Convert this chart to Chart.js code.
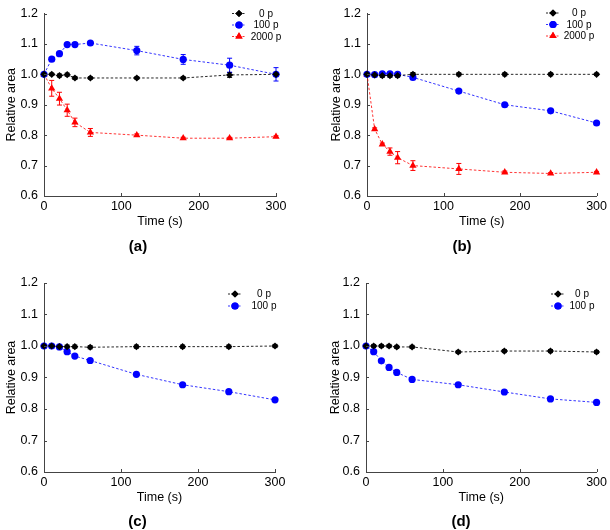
<!DOCTYPE html>
<html>
<head>
<meta charset="utf-8">
<script src="https://cdn.jsdelivr.net/npm/chart.js@4.4.0/dist/chart.umd.min.js"></script>
<style>
  html, body { margin: 0; padding: 0; background: #fff; }
  #wrap { position: relative; width: 610px; height: 530px; }
  .panel { position: absolute; width: 305px; height: 265px; }
</style>
</head>
<body>
<div id="wrap">
  <div class="panel" style="left:0;top:0"><canvas id="pa" width="305" height="265"></canvas></div>
  <div class="panel" style="left:305px;top:0"><canvas id="pb" width="305" height="265"></canvas></div>
  <div class="panel" style="left:0;top:265px"><canvas id="pc" width="305" height="265"></canvas></div>
  <div class="panel" style="left:305px;top:265px"><canvas id="pd" width="305" height="265"></canvas></div>
</div>
<script>
// time points (s)
const times = [0, 10, 20, 30, 40, 60, 120, 180, 240, 300];
const xTicks = [0, 100, 200, 300];
const yTicks = [0.6, 0.7, 0.8, 0.9, 1.0, 1.1, 1.2];

// panel (a)
const a0p       = [1.0, 1.0, 0.996, 0.999, 0.988, 0.988, 0.988, 0.988, 0.998, 1.0];
const a0pErr    = [0, 0.004, 0.005, 0.005, 0.005, 0.004, 0.004, 0.004, 0.008, 0.004];
const a100p     = [1.0, 1.05, 1.068, 1.098, 1.098, 1.103, 1.078, 1.049, 1.03, 1.0];
const a100pErr  = [0, 0.004, 0.004, 0.004, 0.004, 0.003, 0.014, 0.016, 0.023, 0.022];
const a2000p    = [1.0, 0.954, 0.92, 0.882, 0.842, 0.809, 0.80, 0.79, 0.79, 0.795];
const a2000pErr = [0, 0.026, 0.021, 0.02, 0.014, 0.013, 0.004, 0.003, 0.003, 0.003];

// panel (b)
const b0p       = [1.0, 0.998, 0.996, 0.996, 0.996, 1.0, 1.0, 1.0, 1.0, 1.0];
const b0pErr    = [0, 0.005, 0.006, 0.006, 0.006, 0.006, 0.005, 0.005, 0.005, 0.004];
const b100p     = [1.0, 0.999, 1.002, 1.002, 1.0, 0.99, 0.945, 0.90, 0.88, 0.84];
const b100pErr  = [0, 0.003, 0.003, 0.003, 0.003, 0.003, 0.003, 0.003, 0.003, 0.003];
const b2000p    = [1.0, 0.82, 0.77, 0.746, 0.726, 0.70, 0.689, 0.678, 0.674, 0.678];
const b2000pErr = [0, 0.004, 0.004, 0.012, 0.02, 0.016, 0.018, 0.004, 0.003, 0.003];

// panel (c)
const c0p       = [1.0, 1.0, 0.998, 0.998, 0.998, 0.996, 0.998, 0.998, 0.998, 1.0];
const c0pErr    = [0, 0.005, 0.005, 0.005, 0.005, 0.005, 0.005, 0.005, 0.005, 0.005];
const c100p     = [1.0, 1.0, 0.997, 0.982, 0.968, 0.954, 0.91, 0.877, 0.855, 0.829];
const c100pErr  = [0, 0, 0, 0, 0, 0, 0, 0, 0, 0];

// panel (d)
const d0p       = [1.0, 1.0, 1.0, 1.0, 0.997, 0.997, 0.981, 0.984, 0.984, 0.981];
const d0pErr    = [0, 0.005, 0.005, 0.005, 0.005, 0.005, 0.005, 0.005, 0.005, 0.005];
const d100p     = [1.0, 0.982, 0.953, 0.932, 0.916, 0.894, 0.877, 0.854, 0.832, 0.821];
const d100pErr  = [0, 0, 0, 0, 0, 0, 0, 0, 0, 0];

const FONT = '"Liberation Sans", Arial, Helvetica, sans-serif';
const AXIS = '#444';

const styles = {
  '0 p':    { color: '#000000', line: 'rgba(0,0,0,0.85)',  pointStyle: 'rectRot',  radius: 3.6 },
  '100 p':  { color: '#0000ff', line: 'rgba(0,0,255,0.8)', pointStyle: 'circle',   radius: 3.6 },
  '2000 p': { color: '#ff0000', line: 'rgba(255,0,0,0.8)', pointStyle: 'triangle', radius: 4.2 }
};

function makeSet(label, values, errs) {
  const s = styles[label];
  return {
    label: label,
    data: times.map((t, i) => ({ x: t, y: values[i] })),
    errors: errs,
    borderColor: s.line,
    backgroundColor: s.color,
    pointBackgroundColor: s.color,
    pointBorderColor: s.color,
    pointStyle: s.pointStyle,
    pointRadius: s.radius,
    pointBorderWidth: 0,
    borderWidth: 1,
    borderDash: [2.5, 2],
    showLine: true,
    clip: false
  };
}

// error bars under markers, inward ticks and the legend
const decor = {
  id: 'decor',
  beforeDatasetsDraw(chart) {
    const { ctx, scales: { x, y } } = chart;
    ctx.save();
    ctx.lineWidth = 1;
    chart.data.datasets.forEach(ds => {
      ctx.strokeStyle = ds.backgroundColor;
      ds.data.forEach((p, i) => {
        const e = ds.errors[i];
        if (!e) return;
        const px = x.getPixelForValue(p.x);
        const y1 = y.getPixelForValue(p.y - e);
        const y2 = y.getPixelForValue(p.y + e);
        ctx.beginPath();
        ctx.moveTo(px, y1); ctx.lineTo(px, y2);
        ctx.moveTo(px - 2.5, y1); ctx.lineTo(px + 2.5, y1);
        ctx.moveTo(px - 2.5, y2); ctx.lineTo(px + 2.5, y2);
        ctx.stroke();
      });
    });
    ctx.restore();
  },
  afterDraw(chart, args, opts) {
    const { ctx, scales: { x, y } } = chart;
    ctx.save();
    ctx.strokeStyle = AXIS;
    ctx.lineWidth = 1;
    ctx.beginPath();
    yTicks.forEach(v => {
      const py = Math.round(y.getPixelForValue(v)) + 0.5;
      ctx.moveTo(x.left, py); ctx.lineTo(x.left + 3, py);
    });
    xTicks.forEach(v => {
      const px = Math.round(x.getPixelForValue(v)) + 0.5;
      ctx.moveTo(px, y.bottom); ctx.lineTo(px, y.bottom - 3);
    });
    ctx.stroke();

    // legend
    const lg = opts.legend;
    chart.data.datasets.forEach((ds, i) => {
      const ly = lg.y + i * lg.dy;
      ctx.strokeStyle = ds.borderColor;
      ctx.setLineDash([2, 1.5]);
      ctx.beginPath();
      ctx.moveTo(lg.x - 7, ly); ctx.lineTo(lg.x + 7, ly);
      ctx.stroke();
      ctx.setLineDash([]);
      ctx.fillStyle = ds.backgroundColor;
      Chart.helpers.drawPoint(ctx, { pointStyle: ds.pointStyle, radius: ds.pointRadius, borderWidth: 0 }, lg.x, ly);
      ctx.fill();
      ctx.fillStyle = '#000';
      ctx.font = '10px ' + FONT;
      ctx.textAlign = 'center';
      ctx.textBaseline = 'middle';
      ctx.fillText(ds.label, lg.tx, ly + 0.5);
    });
    ctx.restore();
  }
};

function makePanel(id, letter, sets, lay) {
  new Chart(document.getElementById(id), {
    type: 'scatter',
    data: { datasets: sets },
    plugins: [decor],
    options: {
      responsive: false,
      animation: false,
      layout: { padding: { left: lay.padLeft, right: lay.padRight, top: lay.padTop, bottom: 0 } },
      plugins: {
        legend: { display: false },
        tooltip: { enabled: false },
        title: {
          display: true,
          position: 'bottom',
          text: letter,
          color: '#000',
          font: { family: FONT, size: 15, weight: 'bold', lineHeight: 1.2 },
          padding: { top: lay.titleTop, bottom: lay.titleBottom }
        },
        decor: { legend: lay.legend }
      },
      scales: {
        x: {
          type: 'linear',
          min: 0, max: 300,
          afterBuildTicks: s => { s.ticks = xTicks.map(v => ({ value: v })); },
          afterFit: s => { s.height = 33; },
          grid: { display: false, drawTicks: false },
          border: { display: true, color: AXIS, width: 1 },
          ticks: { color: '#000', padding: 3, maxRotation: 0, font: { family: FONT, size: 12.5 } },
          title: { display: true, text: 'Time (s)', color: '#000', padding: { top: 0, bottom: 0 }, font: { family: FONT, size: 12.5 } }
        },
        y: {
          type: 'linear',
          min: 0.6, max: 1.2,
          afterBuildTicks: s => { s.ticks = yTicks.map(v => ({ value: v })); },
          afterFit: s => { s.width = lay.yWidth; },
          grid: { display: false, drawTicks: false },
          border: { display: true, color: AXIS, width: 1 },
          ticks: { color: '#000', padding: 6, font: { family: FONT, size: 12.5 }, callback: v => v.toFixed(1) },
          title: { display: true, text: 'Relative area', color: '#000', padding: { top: 4, bottom: 0 }, font: { family: FONT, size: 12.5 } }
        }
      }
    }
  });
}

makePanel('pa', '(a)', [makeSet('0 p', a0p, a0pErr), makeSet('100 p', a100p, a100pErr), makeSet('2000 p', a2000p, a2000pErr)],
  { padLeft: 0, padRight: 29, padTop: 7, yWidth: 44, titleTop: 9, titleBottom: 9, legend: { x: 239, tx: 266, y: 13.5, dy: 11.5 } });
makePanel('pb', '(b)', [makeSet('0 p', b0p, b0pErr), makeSet('100 p', b100p, b100pErr), makeSet('2000 p', b2000p, b2000pErr)],
  { padLeft: 20, padRight: 11, padTop: 7, yWidth: 42, titleTop: 9, titleBottom: 9, legend: { x: 248, tx: 274, y: 13, dy: 11.5 } });
makePanel('pc', '(c)', [makeSet('0 p', c0p, c0pErr), makeSet('100 p', c100p, c100pErr)],
  { padLeft: 0, padRight: 30, padTop: 18, yWidth: 44, titleTop: 8, titleBottom: -1, legend: { x: 235, tx: 264, y: 29, dy: 12 } });
makePanel('pd', '(d)', [makeSet('0 p', d0p, d0pErr), makeSet('100 p', d100p, d100pErr)],
  { padLeft: 19, padRight: 12, padTop: 18, yWidth: 42, titleTop: 8, titleBottom: -1, legend: { x: 253, tx: 277, y: 29, dy: 12 } });
</script>
</body>
</html>
